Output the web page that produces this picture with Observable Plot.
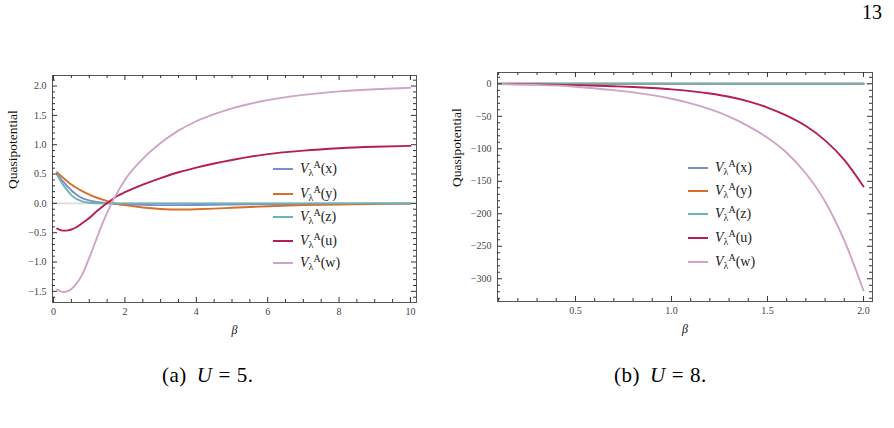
<!DOCTYPE html>
<html><head><meta charset="utf-8">
<script src="https://cdn.jsdelivr.net/npm/d3@7"></script>
<script src="https://cdn.jsdelivr.net/npm/@observablehq/plot@0.6"></script>
<style>
body{margin:0;background:#fff;width:894px;height:428px;position:relative;overflow:hidden;font-family:"Liberation Serif",serif;color:#000}
.abs{position:absolute}
.lg{position:absolute;font-size:14px;line-height:14px;white-space:nowrap;color:#222}
.lg .sw{position:absolute;left:0;top:6px;width:20px;height:2px}
.lg .tx{position:absolute;left:27px;top:0}
.lg sub{font-size:10px;vertical-align:-3px;line-height:0}
.lg sup{font-size:10px;vertical-align:5px;line-height:0}
.cap{position:absolute;font-size:21px;white-space:nowrap;letter-spacing:0.5px}
.cap .g{display:inline-block;width:10px}
.cap .s{display:inline-block;width:6px}
</style></head>
<body>
<div class="abs" style="left:862px;top:1px;font-size:20px">13</div>
<div id="pa" class="abs" style="left:0;top:60px"></div>
<div id="pb" class="abs" style="left:440px;top:60px"></div>
<div id="la"></div>
<div id="lb"></div>
<div class="cap" style="left:162px;top:363px">(a)<span class="g"></span><i>U</i><span class="s"></span>=<span class="s"></span>5.</div>
<div class="cap" style="left:614px;top:363px">(b)<span class="g"></span><i>U</i><span class="s"></span>=<span class="s"></span>8.</div>
<script>
// ---------- data: panel (a), U = 5 ----------
const betaA = [0.1,0.2,0.3,0.4,0.5,0.6,0.8,1.0,1.2,1.4,1.6,1.8,2.0,2.5,3.0,3.5,4.0,4.5,5.0,6.0,7.0,8.0,9.0,10.0];
const xA = [0.50,0.42,0.35,0.28,0.22,0.17,0.09,0.05,0.025,0.01,-0.005,-0.012,-0.018,-0.025,-0.03,-0.03,-0.028,-0.024,-0.02,-0.013,-0.008,-0.005,-0.003,-0.002];
const yA = [0.53,0.47,0.42,0.37,0.32,0.28,0.21,0.15,0.10,0.06,0.02,-0.01,-0.03,-0.07,-0.095,-0.105,-0.10,-0.09,-0.075,-0.05,-0.03,-0.02,-0.01,-0.005];
const zA = [0.49,0.38,0.29,0.21,0.14,0.09,0.035,0.01,0.002,0,0,0,0,0,0,0,0,0,0,0,0,0,0,0];
const uA = [-0.43,-0.455,-0.465,-0.46,-0.445,-0.42,-0.34,-0.25,-0.14,-0.04,0.05,0.13,0.19,0.32,0.43,0.53,0.61,0.68,0.74,0.84,0.90,0.94,0.965,0.98];
const wA = [-1.47,-1.50,-1.51,-1.495,-1.46,-1.40,-1.22,-0.93,-0.61,-0.30,-0.03,0.20,0.40,0.76,1.03,1.24,1.40,1.52,1.62,1.76,1.85,1.91,1.945,1.97];

// ---------- data: panel (b), U = 8 ----------
const betaB = [0.1,0.3,0.5,0.7,0.8,0.9,1.0,1.1,1.2,1.3,1.4,1.5,1.6,1.7,1.8,1.9,2.0];
const xB = [0,0,0,0,0,0,0,0,0,0,0,0,0,0,0,0,0];
const yB = [0,0,0,0,0,0,0,0,0,0,0,0,0,0,0,0,0];
const zB = [0,0,0,0,0,0,0,0,0,0,0,0,0,0,0,0,0];
const uB = [-0.2,-0.8,-2.0,-3.8,-5.0,-6.5,-8.5,-11.3,-15,-20,-27,-36.5,-49,-65,-87,-117,-158];
const wB = [-0.4,-1.7,-4.5,-9.8,-13.2,-17.5,-23,-30,-39,-50.5,-65,-83,-106,-138,-181,-241,-318];

// ---------- series names & colours ----------
const seriesKeys = ["x","y","z","u","w"];
const seriesColors = ["#7a8fc9","#d66f2c","#6db3b3","#b41e52","#cea5c5"];

// ---------- ticks ----------
const xMajorA = [0,2,4,6,8,10];
const xMinorA = [0.5,1,1.5,2.5,3,3.5,4.5,5,5.5,6.5,7,7.5,8.5,9,9.5];
const yMajorA = [-1.5,-1.0,-0.5,0,0.5,1.0,1.5,2.0];
const yMinorA = d3.range(-16,22).map(d=>d/10).filter(v=>Math.abs(v*2-Math.round(v*2))>1e-9);
const xMajorB = [0.5,1.0,1.5,2.0];
const xMinorB = [0.1,0.2,0.3,0.4,0.6,0.7,0.8,0.9,1.1,1.2,1.3,1.4,1.6,1.7,1.8,1.9];
const yMajorB = [0,-50,-100,-150,-200,-250,-300];
const yMinorB = d3.range(-330,11,10).filter(v=>v%50!==0);

function panel(o){
  const {beta, values, xDomain, yDomain, width, height, ml, mr, mt, mb, xMajor, xMinor, yMajor, yMinor, xFmt, yFmt, labDx} = o;
  const fh = height-mt-mb, fw = width-ml-mr;
  const rows = seriesKeys.flatMap((k,si)=>beta.map((b,i)=>({beta:b, v:values[si][i], key:k})));
  const tc = "#333";
  const marks = [
    Plot.ruleY([0], {stroke:"#dcdcdc", strokeWidth:1.6}),
    ...seriesKeys.map((k,si)=>Plot.line(rows.filter(r=>r.key===k), {x:"beta", y:"v", stroke:seriesColors[si], strokeWidth:1.9, curve:"monotone-x"})),
    Plot.frame({stroke:"#555", strokeWidth:1}),
    Plot.tickX(xMajor, {x:d=>d, insetTop:fh-5, stroke:tc}),
    Plot.tickX(xMajor, {x:d=>d, insetBottom:fh-5, stroke:tc}),
    Plot.tickX(xMinor, {x:d=>d, insetTop:fh-3, stroke:tc}),
    Plot.tickX(xMinor, {x:d=>d, insetBottom:fh-3, stroke:tc}),
    Plot.tickY(yMajor, {y:d=>d, insetRight:fw-5, stroke:tc}),
    Plot.tickY(yMajor, {y:d=>d, insetLeft:fw-5, stroke:tc}),
    Plot.tickY(yMinor, {y:d=>d, insetRight:fw-3, stroke:tc}),
    Plot.tickY(yMinor, {y:d=>d, insetLeft:fw-3, stroke:tc}),
    Plot.axisX({ticks:xMajor, tickSize:0, tickPadding:5, tickFormat:xFmt, label:null, fontSize:10}),
    Plot.axisY({ticks:yMajor, tickSize:0, tickPadding:6, tickFormat:yFmt, label:null, fontSize:10}),
    Plot.text(["Quasipotential"], {text:d=>d, frameAnchor:"left", dx:labDx, rotate:-90, fontSize:13.5, fill:"#111"}),
    Plot.text(["β"], {text:d=>d, frameAnchor:"bottom", dy:31, fontSize:12, fontStyle:"italic", fill:"#111"})
  ];
  return Plot.plot({
    width, height, marginLeft:ml, marginRight:mr, marginTop:mt, marginBottom:mb,
    x:{domain:xDomain}, y:{domain:yDomain},
    style:{fontFamily:"Liberation Serif, serif", fontSize:"10px", color:"#444", background:"white"},
    marks
  });
}

document.getElementById("pa").append(panel({
  beta:betaA, values:[xA,yA,zA,uA,wA], xDomain:[-0.03,10.17], yDomain:[-1.69,2.18],
  width:440, height:290, ml:52, mr:24, mt:15, mb:48,
  xMajor:xMajorA, xMinor:xMinorA, yMajor:yMajorA, yMinor:yMinorA,
  xFmt:d3.format("d"), yFmt:d3.format(".1f"), labDx:-40
}));
document.getElementById("pb").append(panel({
  beta:betaB, values:[xB,yB,zB,uB,wB], xDomain:[0.094,2.047], yDomain:[-335,17.4],
  width:454, height:290, ml:57, mr:22, mt:12, mb:49,
  xMajor:xMajorB, xMinor:xMinorB, yMajor:yMajorB, yMinor:yMinorB,
  xFmt:d3.format(".1f"), yFmt:d3.format("d"), labDx:-41
}));

function legend(id, left, tops){
  const host = document.getElementById(id);
  seriesKeys.forEach((k,i)=>{
    const d = document.createElement("div");
    d.className = "lg";
    d.style.left = left+"px";
    d.style.top = (tops[i]-7)+"px";
    d.innerHTML = `<span class="sw" style="background:${seriesColors[i]}"></span><span class="tx"><i>V</i><sub>λ</sub><sup>A</sup>(${k})</span>`;
    host.append(d);
  });
}
legend("la", 273, [169,194,217,241,263]);
legend("lb", 688, [168,191,214,238,262]);
</script>
</body></html>
